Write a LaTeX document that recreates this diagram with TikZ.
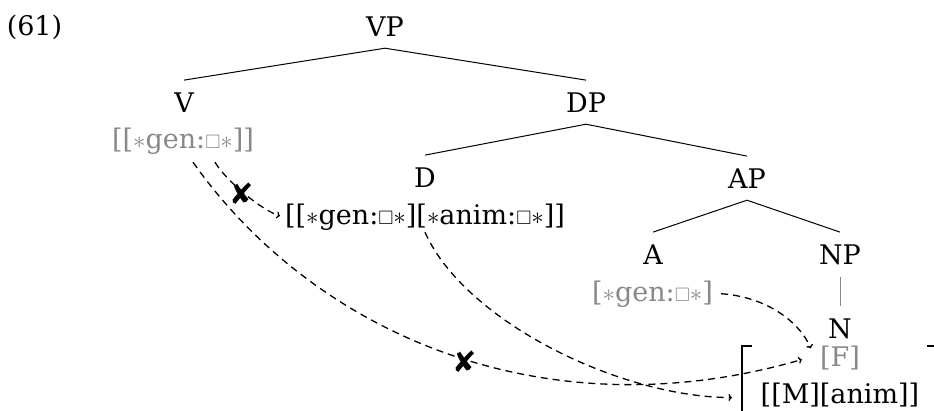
\documentclass[tikz,border=0pt]{standalone}
\usepackage{fontspec}
\usepackage{amssymb}
\setmainfont{DejaVu Serif}
\newfontfamily\dvsans{DejaVu Sans}
\usetikzlibrary{arrows.meta,calc}
\definecolor{fgray}{RGB}{136,136,136}
\newcommand\fbx{\scalebox{0.72}{$\square$}}
\newcommand\fst{$\ast$}
\newcommand\nope{{\dvsans\fontsize{29}{29}\selectfont ✘}}
\begin{document}
\begin{tikzpicture}[x=1pt,y=-1pt,
  every node/.style={font=\fontsize{27}{29}\selectfont},
  cat/.style={anchor=base,inner sep=12pt},
  feat/.style={anchor=base,inner sep=2pt},
  grayfeat/.style={feat,text=fgray},
  branch/.style={line width=1pt},
  dep/.style={dash pattern=on 7pt off 5pt,line width=1.3pt,-{To[length=3.5pt,width=7pt]}},
  xmark/.style={inner sep=0pt},
  brack/.style={line width=1.6pt}]
\clip (0,0) rectangle (934,410);
% tree
\node[cat] (ex) at (34.5,35) {(61)};
\node[cat] (VP) at (385,36) {VP};
\node[cat] (V) at (184,112) {V};
\node[cat] (DP) at (586,112) {DP};
\node[grayfeat] (vf) at (183,148) {[[\fst gen:\fbx\fst]]};
\node[cat] (D) at (425,187) {D};
\node[cat] (AP) at (747,188) {AP};
\node[feat] (df) at (425,224) {[[\fst gen:\fbx\fst][\fst anim:\fbx\fst]]};
\node[cat] (A) at (653,264) {A};
\node[cat] (NP) at (840,264) {NP};
\node[grayfeat] (af) at (652.5,301) {[\fst gen:\fbx\fst]};
\node[cat] (N) at (840,338) {N};
\node[grayfeat] (F) at (840,366) {[F]};
\node[feat] (MA) at (840,403) {[[M][anim]]};
\draw[branch] (VP.south) -- (V.north);
\draw[branch] (VP.south) -- (DP.north);
\draw[branch] (DP.south) -- (D.north);
\draw[branch] (DP.south) -- (AP.north);
\draw[branch] (AP.south) -- (A.north);
\draw[branch] (AP.south) -- (NP.north);
\draw[branch,fgray] (NP.south) -- (N.north);
% matrix brackets
\coordinate (brk) at (742,346);
\coordinate (brkR) at (927,346);
\draw[brack] ($(brk)+(10,0)$) -- (brk) -- ++(0,80);
\draw[brack] (brkR) -- ++(10,0) -- ++(0,80);
% dependency arrows
\coordinate (vfA) at ($(vf.south)+(10,6)$);
\coordinate (vfB) at ($(vf.south)+(32,6)$);
\coordinate (Atip) at ($(F.west)+(-16,2)$);
\coordinate (Ctip) at ($(brk |- MA.west)+(-10,3)$);
\coordinate (Dsrc) at ($(af.east)+(6,0)$);
\coordinate (Dtip) at ($(F.north west)+(-7,5)$);
\draw[dep] (vfA) .. controls +(120,170) and +(-260,75) .. (Atip);
\draw[dep,shorten >=3pt] (vfB) .. controls +(12,20) and +(-20,-6) .. (df.west);
\draw[dep] (df.south) .. controls +(40,90) and +(-110,0) .. (Ctip);
\draw[dep] (Dsrc) .. controls +(45,3) and +(-12,-27) .. (Dtip);
% blocked marks
\node[xmark] (x1) at (242,194) {\nope};
\node[xmark] (x2) at (465,362) {\nope};
\end{tikzpicture}
\end{document}
